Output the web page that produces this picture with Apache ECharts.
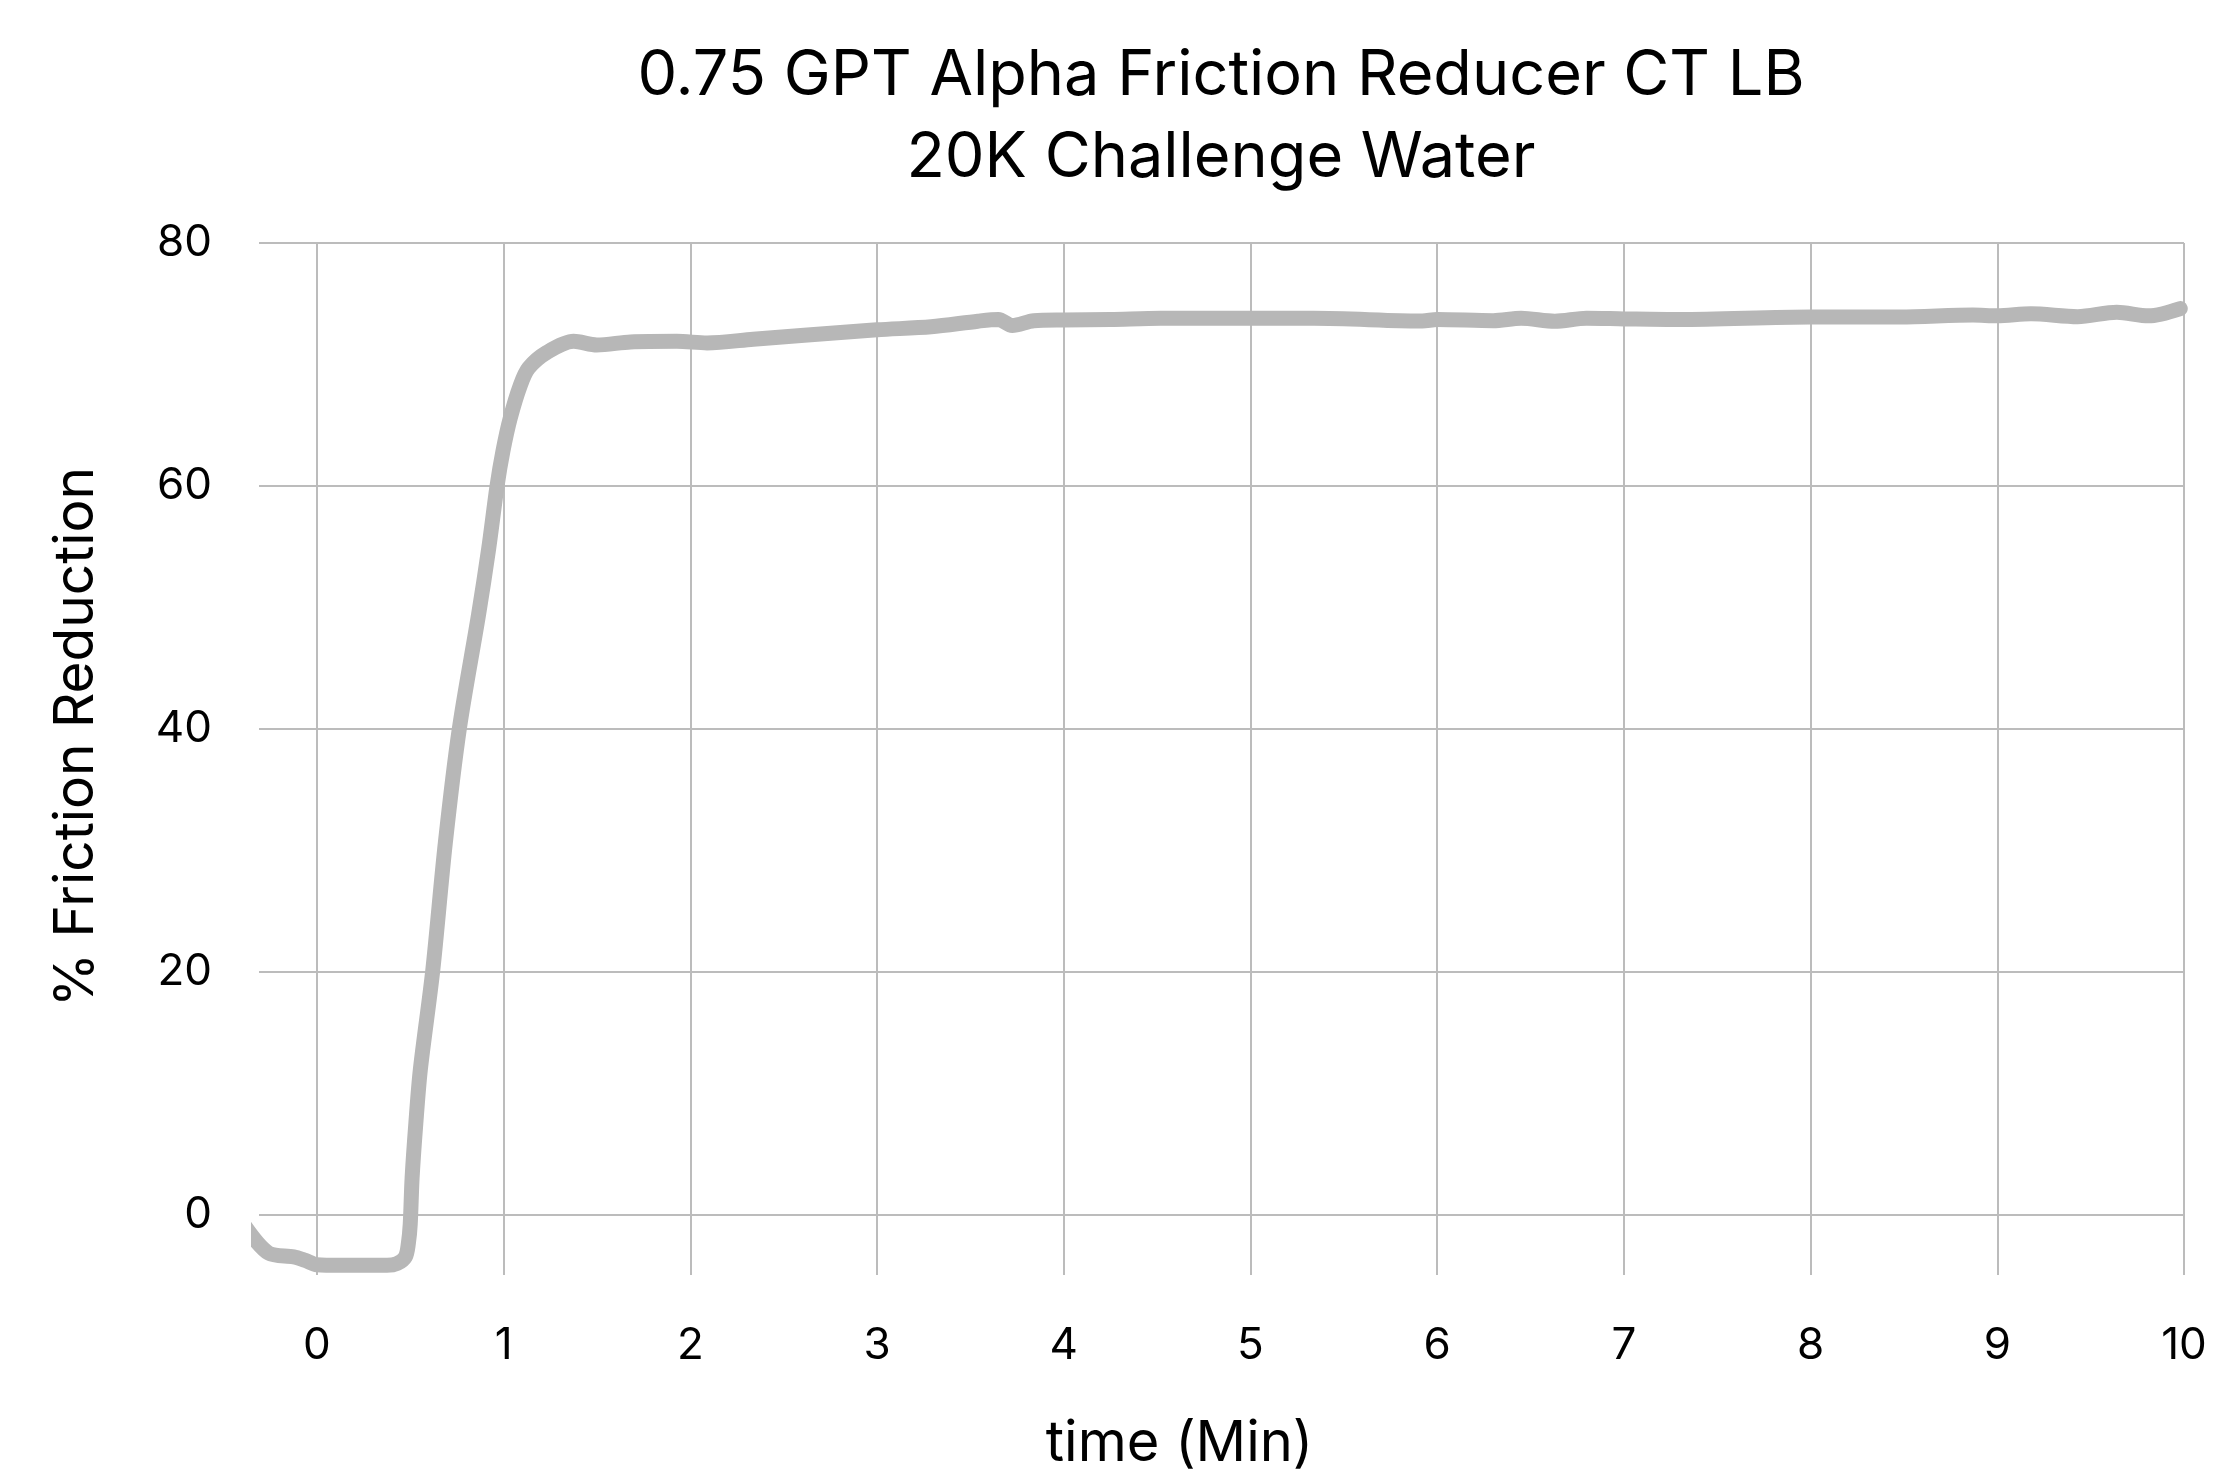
<!DOCTYPE html>
<html>
<head>
<meta charset="utf-8">
<style>html,body{margin:0;padding:0;background:#fff}#chart{width:2214px;height:1477px}</style>
<script src="https://cdn.jsdelivr.net/npm/echarts@6/dist/echarts.min.js"></script>
</head>
<body>
<div id="chart"></div>
<script>
const titleLines = ['0.75 GPT Alpha Friction Reducer CT LB', '20K Challenge Water'];
const xAxisName = 'time (Min)';
const yAxisName = '% Friction Reduction';
const xTicks = [0, 1, 2, 3, 4, 5, 6, 7, 8, 9, 10];
const yTicks = [0, 20, 40, 60, 80];

const timeMin = [
  -0.385, -0.258, -0.124, -0.062, 0.0, 0.126, 0.286, 0.376, 0.43, 0.474, 0.49, 0.5,
  0.51, 0.53, 0.554, 0.62, 0.688, 0.763, 0.866, 0.92, 0.965, 0.997, 1.036, 1.09, 1.134,
  1.233, 1.375, 1.5, 1.68, 1.928, 2.09, 2.337, 2.61, 3.0, 3.29, 3.54, 3.65, 3.724, 3.84,
  4.0, 4.25, 4.52, 5.0, 5.34, 5.8, 5.92, 6.0, 6.3, 6.45, 6.63, 6.8, 7.0, 7.3, 8.0, 8.48,
  8.87, 9.0, 9.18, 9.43, 9.64, 9.81, 9.98
];
const frictionPct = [
  -1.0, -3.2, -3.5, -3.8, -4.15, -4.2, -4.2, -4.2, -4.05, -3.5, -2.4, -0.8,
  3.0, 7.5, 11.9, 20.0, 30.6, 40.0, 49.4, 54.8, 60.0, 62.9, 65.6, 68.3, 69.7,
  71.0, 71.9, 71.6, 71.85, 71.9, 71.77, 72.07, 72.4, 72.85, 73.1, 73.56, 73.7, 73.2, 73.6,
  73.66, 73.7, 73.8, 73.8, 73.8, 73.6, 73.58, 73.7, 73.6, 73.8, 73.55, 73.8, 73.75, 73.7, 73.9, 73.9,
  74.07, 74.0, 74.17, 73.93, 74.3, 74.0, 74.6
];

const FONT = 'Inter';
const chart = echarts.init(document.getElementById('chart'), null, {renderer: 'canvas'});
chart.setOption({
  animation: false,
  backgroundColor: '#ffffff',
  title: {
    text: titleLines.join('\n'),
    left: 1221,
    textAlign: 'center',
    top: 35,
    padding: 0,
    textStyle: {fontFamily: FONT, fontSize: 63, fontWeight: 'normal', color: '#000', lineHeight: 82}
  },
  grid: {left: 259, right: 30, top: 243, bottom: 186, containLabel: false},
  xAxis: {
    type: 'value',
    min: -0.31,
    max: 10,
    name: xAxisName,
    nameLocation: 'middle',
    nameGap: 141,
    nameTextStyle: {fontFamily: FONT, fontSize: 56, color: '#000', padding: [0, 84, 0, 0]},
    axisLine: {show: false},
    axisTick: {show: false, customValues: xTicks},
    axisLabel: {customValues: xTicks, fontFamily: FONT, fontSize: 44, color: '#000', margin: 49},
    splitLine: {show: true, lineStyle: {color: '#bcbcbc', width: 2}}
  },
  yAxis: {
    type: 'value',
    min: -5,
    max: 80,
    name: yAxisName,
    nameLocation: 'middle',
    nameGap: 155,
    nameTextStyle: {fontFamily: FONT, fontSize: 55, color: '#000', padding: [0, 0, 0, 44]},
    axisLine: {show: false},
    axisTick: {show: false, customValues: yTicks},
    axisLabel: {customValues: yTicks, fontFamily: FONT, fontSize: 44, color: '#000', margin: 47, padding: [16, 0, 0, 0]},
    splitLine: {show: true, lineStyle: {color: '#bcbcbc', width: 2}}
  },
  series: [{
    type: 'line',
    data: timeMin.map((t, i) => [t, frictionPct[i]]),
    showSymbol: false,
    smooth: 0.3,
    clip: false,
    lineStyle: {color: '#b7b7b7', width: 15, cap: 'round', join: 'round'}
  }]
});
</script>
</body>
</html>
